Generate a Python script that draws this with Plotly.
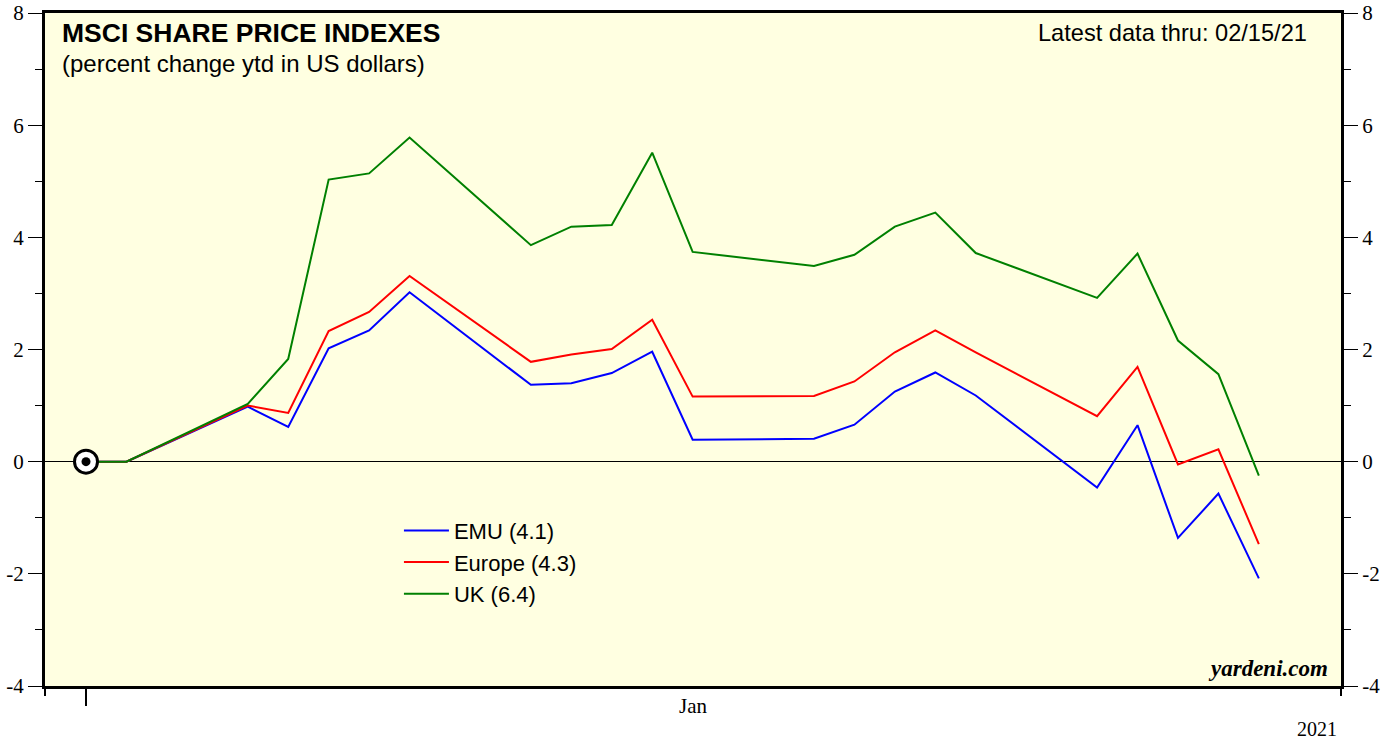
import plotly.graph_objects as go

dates = ["2020-12-31", "2021-01-01", "2021-01-04", "2021-01-05", "2021-01-06", "2021-01-07",
         "2021-01-08", "2021-01-11", "2021-01-12", "2021-01-13", "2021-01-14", "2021-01-15",
         "2021-01-18", "2021-01-19", "2021-01-20", "2021-01-21", "2021-01-22", "2021-01-25",
         "2021-01-26", "2021-01-27", "2021-01-28", "2021-01-29"]

emu = [0, 0, 0.98, 0.62, 2.02, 2.34, 3.02, 1.37, 1.40, 1.58, 1.96, 0.39,
       0.41, 0.66, 1.25, 1.59, 1.18, -0.46, 0.65, -1.36, -0.57, -2.08]
europe = [0, 0, 1.00, 0.87, 2.33, 2.67, 3.31, 1.78, 1.91, 2.01, 2.53, 1.16,
          1.17, 1.43, 1.95, 2.34, 1.95, 0.81, 1.69, -0.05, 0.22, -1.47]
uk = [0, 0, 1.03, 1.83, 5.03, 5.14, 5.78, 3.86, 4.19, 4.22, 5.51, 3.74,
      3.49, 3.69, 4.19, 4.44, 3.72, 2.92, 3.71, 2.16, 1.56, -0.25]

series_names = ["EMU (4.1)", "Europe (4.3)", "UK (6.4)"]
series_colors = ["#0000FF", "#FF0000", "#008000"]

base_date = ["2020-12-31"]
base_value = [0]

y_ticks = [-4, -2, 0, 2, 4, 6, 8]
y_tick_text = ["-4", "-2", "0", "2", "4", "6", "8"]
x_range = ["2020-12-29 23:40", "2021-01-31 00:45"]

fig = go.Figure()

for name, vals, col in zip(series_names, [emu, europe, uk], series_colors):
    fig.add_trace(go.Scatter(x=dates, y=vals, mode="lines", name=name,
                             line=dict(color=col, width=2), legendgroup=name))

# base marker (bullseye) on right axis which matches left axis
fig.add_trace(go.Scatter(x=base_date, y=base_value, mode="markers", yaxis="y2",
                         marker=dict(symbol="circle", size=23, color="white",
                                     line=dict(color="black", width=3)),
                         showlegend=False, hoverinfo="skip"))
fig.add_trace(go.Scatter(x=base_date, y=base_value, mode="markers", yaxis="y2",
                         marker=dict(symbol="circle", size=9, color="black"),
                         showlegend=False, hoverinfo="skip"))

tickfont = dict(family="Liberation Serif", size=21, color="black")

yaxis_common = dict(range=[-4, 8], tickvals=y_ticks, ticktext=y_tick_text,
                    ticks="outside", ticklen=14,
                    tickwidth=1, tickcolor="black", showgrid=False,
                    showline=True, linecolor="black", linewidth=3,
                    tickfont=tickfont, automargin=False,
                    minor=dict(dtick=1, ticks="outside", ticklen=7, tickwidth=1,
                               tickcolor="black", showgrid=False))

fig.update_layout(
    width=1393, height=742,
    margin=dict(l=45, r=52, t=13, b=56, autoexpand=False),
    paper_bgcolor="white",
    plot_bgcolor="#FFFFE1",
    showlegend=True,
    legend=dict(x=0.2731, y=0.262, xanchor="left", yanchor="top",
                bgcolor="rgba(0,0,0,0)", itemwidth=45,
                font=dict(family="Liberation Sans", size=22, color="black"),
                tracegroupgap=0),
    xaxis=dict(type="date", range=x_range, tickvals=["2020-12-31"], ticktext=[""],
               ticks="outside", ticklen=17, tickwidth=2, tickcolor="black",
               showgrid=False, showline=True, linecolor="black", linewidth=3,
               mirror=True, zeroline=False, automargin=False,
               minor=dict(tickvals=x_range, ticks="outside", ticklen=7, tickwidth=2,
                          tickcolor="black", showgrid=False)),
    yaxis=dict(**yaxis_common, side="left", zeroline=True, zerolinecolor="black",
               zerolinewidth=1),
    yaxis2=dict(**yaxis_common, side="right", overlaying="y", matches="y",
                zeroline=False),
    font=dict(family="Liberation Sans", color="black"),
)

fig.add_annotation(text="<b>MSCI SHARE PRICE INDEXES</b>", xref="paper", yref="paper",
                   x=0.0116, y=0.970, xanchor="left", yanchor="middle", showarrow=False,
                   font=dict(family="Liberation Sans", size=26.5, color="black"))
fig.add_annotation(text="(percent change ytd in US dollars)", xref="paper", yref="paper",
                   x=0.0116, y=0.9257, xanchor="left", yanchor="middle", showarrow=False,
                   font=dict(family="Liberation Sans", size=24, color="black"))
fig.add_annotation(text="Latest data thru: 02/15/21", xref="paper", yref="paper",
                   x=0.9753, y=0.970, xanchor="right", yanchor="middle", showarrow=False,
                   font=dict(family="Liberation Sans", size=23.6, color="black"))
fig.add_annotation(text="<b><i>yardeni.com</i></b>", xref="paper", yref="paper",
                   x=0.9915, y=0.0253, xanchor="right", yanchor="middle", showarrow=False,
                   font=dict(family="Liberation Serif", size=23, color="black"))
fig.add_annotation(text="Jan", xref="x", yref="paper", x="2021-01-15", y=-0.0297,
                   xanchor="center", yanchor="middle", showarrow=False,
                   font=dict(family="Liberation Serif", size=21, color="black"))
fig.add_annotation(text="2021", xref="paper", yref="paper", x=0.9985, y=-0.0639,
                   xanchor="right", yanchor="middle", showarrow=False,
                   font=dict(family="Liberation Serif", size=20, color="black"))

# remove the default 8px page margin so the figure fills the window exactly
fig.write_html("out.html", config={"displayModeBar": False},
               post_script="document.body.style.margin='0';document.body.style.overflow='hidden';")
